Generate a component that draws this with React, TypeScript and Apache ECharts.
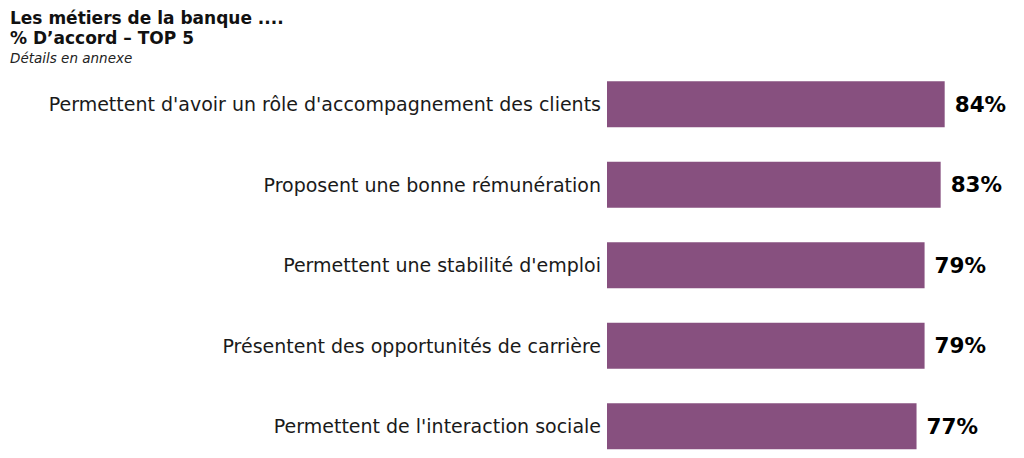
import React, { useEffect, useRef } from "react";
import * as echarts from "echarts";

const categories = [
  "Permettent d'avoir un rôle d'accompagnement des clients",
  "Proposent une bonne rémunération",
  "Permettent une stabilité d'emploi",
  "Présentent des opportunités de carrière",
  "Permettent de l'interaction sociale",
];
const values = [84, 83, 79, 79, 77];
const titleLines = ["Les métiers de la banque ....", "% D’accord – TOP 5"];
const subtitle = "Détails en annexe";

export default function App() {
  const ref = useRef<HTMLDivElement>(null);
  useEffect(() => {
    const chart = echarts.init(ref.current!, null, { renderer: "svg" });
    chart.setOption({
      animation: false,
      backgroundColor: "#ffffff",
      title: [
        {
          text: titleLines.join("\n"),
          left: 5,
          top: 3,
          textStyle: {
            fontFamily: "DejaVu Sans",
            fontWeight: "bold",
            fontSize: 17,
            lineHeight: 20,
            color: "#111111",
          },
          subtext: subtitle,
          itemGap: 3,
          subtextStyle: {
            fontFamily: "DejaVu Sans",
            fontStyle: "italic",
            fontSize: 13.5,
            color: "#222222",
          },
        },
      ],
      grid: { left: 607, top: 64, width: 402, height: 402.5 },
      xAxis: {
        type: "value",
        min: 0,
        max: 100,
        show: false,
      },
      yAxis: {
        type: "category",
        data: categories,
        inverse: true,
        axisLine: { show: false },
        axisTick: { show: false },
        axisLabel: {
          fontFamily: "DejaVu Sans",
          fontSize: 19,
          color: "#1a1a1a",
          margin: 6,
        },
      },
      series: [
        {
          type: "bar",
          data: values,
          barCategoryGap: "43%",
          itemStyle: { color: "#87507f" },
          label: {
            show: true,
            position: "right",
            distance: 10,
            formatter: "{c}%",
            fontFamily: "DejaVu Sans",
            fontWeight: "bold",
            fontSize: 21.5,
            color: "#000000",
          },
        },
      ],
    });
    return () => chart.dispose();
  }, []);
  return (
    <div
      style={{
        position: "fixed",
        left: 0,
        top: 0,
        width: 1024,
        height: 458,
        overflow: "hidden",
        background: "#ffffff",
      }}
    >
      <div ref={ref} style={{ width: 1024, height: 480 }} />
    </div>
  );
}
